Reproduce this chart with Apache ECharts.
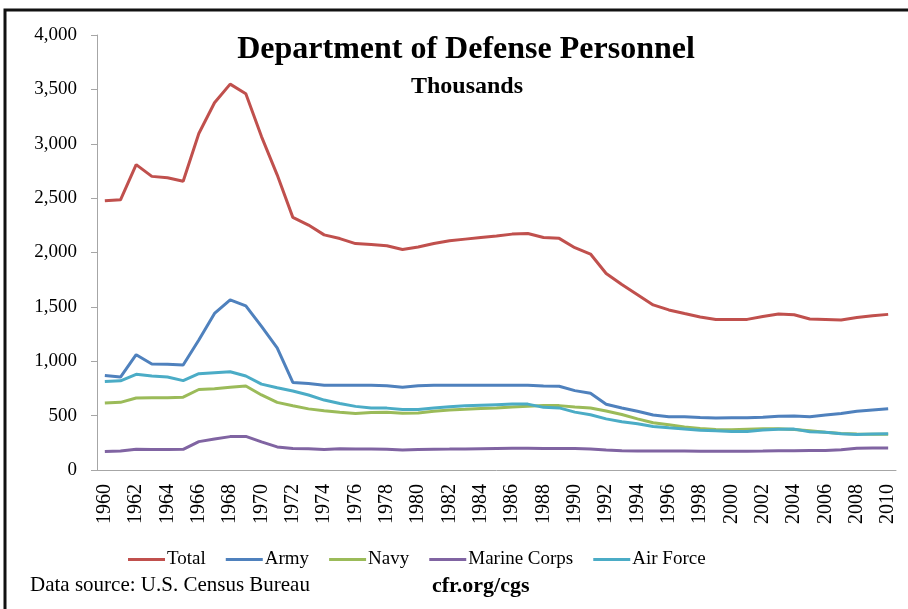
<!DOCTYPE html>
<html>
<head>
<meta charset="utf-8">
<script src="https://cdn.jsdelivr.net/npm/echarts@6/dist/echarts.min.js"></script>
<style>
  html, body { margin: 0; padding: 0; background: #fff; }
  #chart { width: 908px; height: 609px; }
</style>
</head>
<body>
<div id="chart"></div>
<script>
// years 1960 - 2010
var years = [];
for (var y = 1960; y <= 2010; y++) years.push(String(y));

// thousands of personnel
var total = [2475, 2484, 2808, 2700, 2687, 2655, 3094, 3377, 3548, 3460,
             3066, 2714, 2323, 2252, 2162, 2128, 2082, 2074, 2062, 2027,
             2050, 2083, 2108, 2123, 2138, 2151, 2169, 2174, 2138, 2130,
             2044, 1986, 1807, 1705, 1612, 1518, 1472, 1439, 1407, 1384,
             1384, 1385, 1412, 1434, 1427, 1389, 1385, 1380, 1402, 1418,
             1431];
var army = [870, 855, 1060, 975, 972, 965, 1195, 1440, 1565, 1510,
            1320, 1123, 805, 795, 780, 780, 780, 780, 775, 760,
            775, 780, 780, 780, 780, 780, 780, 780, 772, 770,
            730, 705, 605, 570, 540, 505, 490, 490, 482, 479,
            480, 480, 485, 495, 497, 490, 505, 520, 540, 552,
            563];
var navy = [615, 622, 662, 664, 665, 670, 740, 748, 762, 772,
            690, 622, 590, 562, 545, 532, 520, 528, 530, 522,
            525, 540, 552, 558, 565, 571, 580, 587, 593, 592,
            580, 570, 542, 510, 470, 435, 416, 396, 382, 372,
            370, 375, 380, 380, 373, 362, 348, 336, 330, 329,
            328];
var marines = [170, 175, 190, 189, 189, 190, 261, 285, 307, 309,
               258, 212, 198, 196, 189, 196, 192, 192, 191, 185,
               188, 191, 192, 194, 196, 198, 199, 200, 197, 197,
               197, 194, 185, 178, 174, 174, 174, 174, 173, 173,
               173, 173, 174, 178, 178, 180, 180, 186, 199, 203,
               202];
var airForce = [813, 820, 880, 865, 855, 822, 886, 895, 903, 864,
                790, 756, 726, 690, 643, 612, 585, 570, 569, 557,
                557, 570, 582, 590, 596, 601, 606, 606, 576, 571,
                532, 508, 470, 444, 425, 400, 388, 377, 366, 360,
                355, 354, 367, 374, 376, 352, 348, 333, 326, 332,
                333];

var seriesNames = ['Total', 'Army', 'Navy', 'Marine Corps', 'Air Force'];
var seriesData = [total, army, navy, marines, airForce];
var colors = ['#C0504D', '#4F81BD', '#9BBB59', '#8064A2', '#4BACC6'];

var serif = '"Liberation Serif", "DejaVu Serif", serif';

var chart = echarts.init(document.getElementById('chart'));
chart.setOption({
    animation: false,
    color: colors,
    title: [
        {
            text: 'Department of Defense Personnel',
            left: 461, top: 29, textAlign: 'center',
            textStyle: { fontFamily: serif, fontSize: 32, fontWeight: 'bold', color: '#000' }
        },
        {
            text: 'Thousands',
            left: 462, top: 70, textAlign: 'center',
            textStyle: { fontFamily: serif, fontSize: 24, fontWeight: 'bold', color: '#000' }
        }
    ],
    legend: {
        data: seriesNames,
        left: 123, top: 545,
        icon: 'rect',
        itemWidth: 37, itemHeight: 3,
        itemGap: 20,
        textStyle: { fontFamily: serif, fontSize: 19, color: '#000', padding: [0, 0, 0, -3] }
    },
    grid: { left: 97, right: 12, top: 35, bottom: 139, containLabel: false },
    xAxis: {
        type: 'category',
        data: years,
        boundaryGap: true,
        axisLine: { lineStyle: { color: '#A6A6A6', width: 1 } },
        axisTick: { interval: 1, length: 7, lineStyle: { color: '#A6A6A6' } },
        axisLabel: {
            interval: 1, rotate: 90, margin: 14,
            fontFamily: serif, fontSize: 20, color: '#000'
        },
        splitLine: { show: false }
    },
    yAxis: {
        type: 'value',
        min: 0, max: 4000, interval: 500,
        axisLine: { show: true, lineStyle: { color: '#A6A6A6', width: 1 } },
        axisTick: { show: true, length: 6, lineStyle: { color: '#A6A6A6' } },
        axisLabel: {
            margin: 20,
            fontFamily: serif, fontSize: 19, color: '#000',
            formatter: function (v) { return v.toLocaleString('en-US'); }
        },
        splitLine: { show: false }
    },
    series: seriesNames.map(function (name, i) {
        return {
            name: name,
            type: 'line',
            data: seriesData[i],
            symbol: 'none',
            lineStyle: { width: 3, color: colors[i] },
            itemStyle: { color: colors[i] }
        };
    }),
    graphic: [
        {
            type: 'polyline',
            shape: { points: [[5, 609], [5, 10], [908, 10]] },
            style: { stroke: '#111', lineWidth: 3, fill: null }
        },
        {
            type: 'text', left: 30, top: 575,
            style: { text: 'Data source: U.S. Census Bureau', font: '21px ' + serif, fill: '#000' }
        },
        {
            type: 'text', left: 432, top: 575,
            style: { text: 'cfr.org/cgs', font: 'bold 22px ' + serif, fill: '#000' }
        }
    ]
});
</script>
</body>
</html>
